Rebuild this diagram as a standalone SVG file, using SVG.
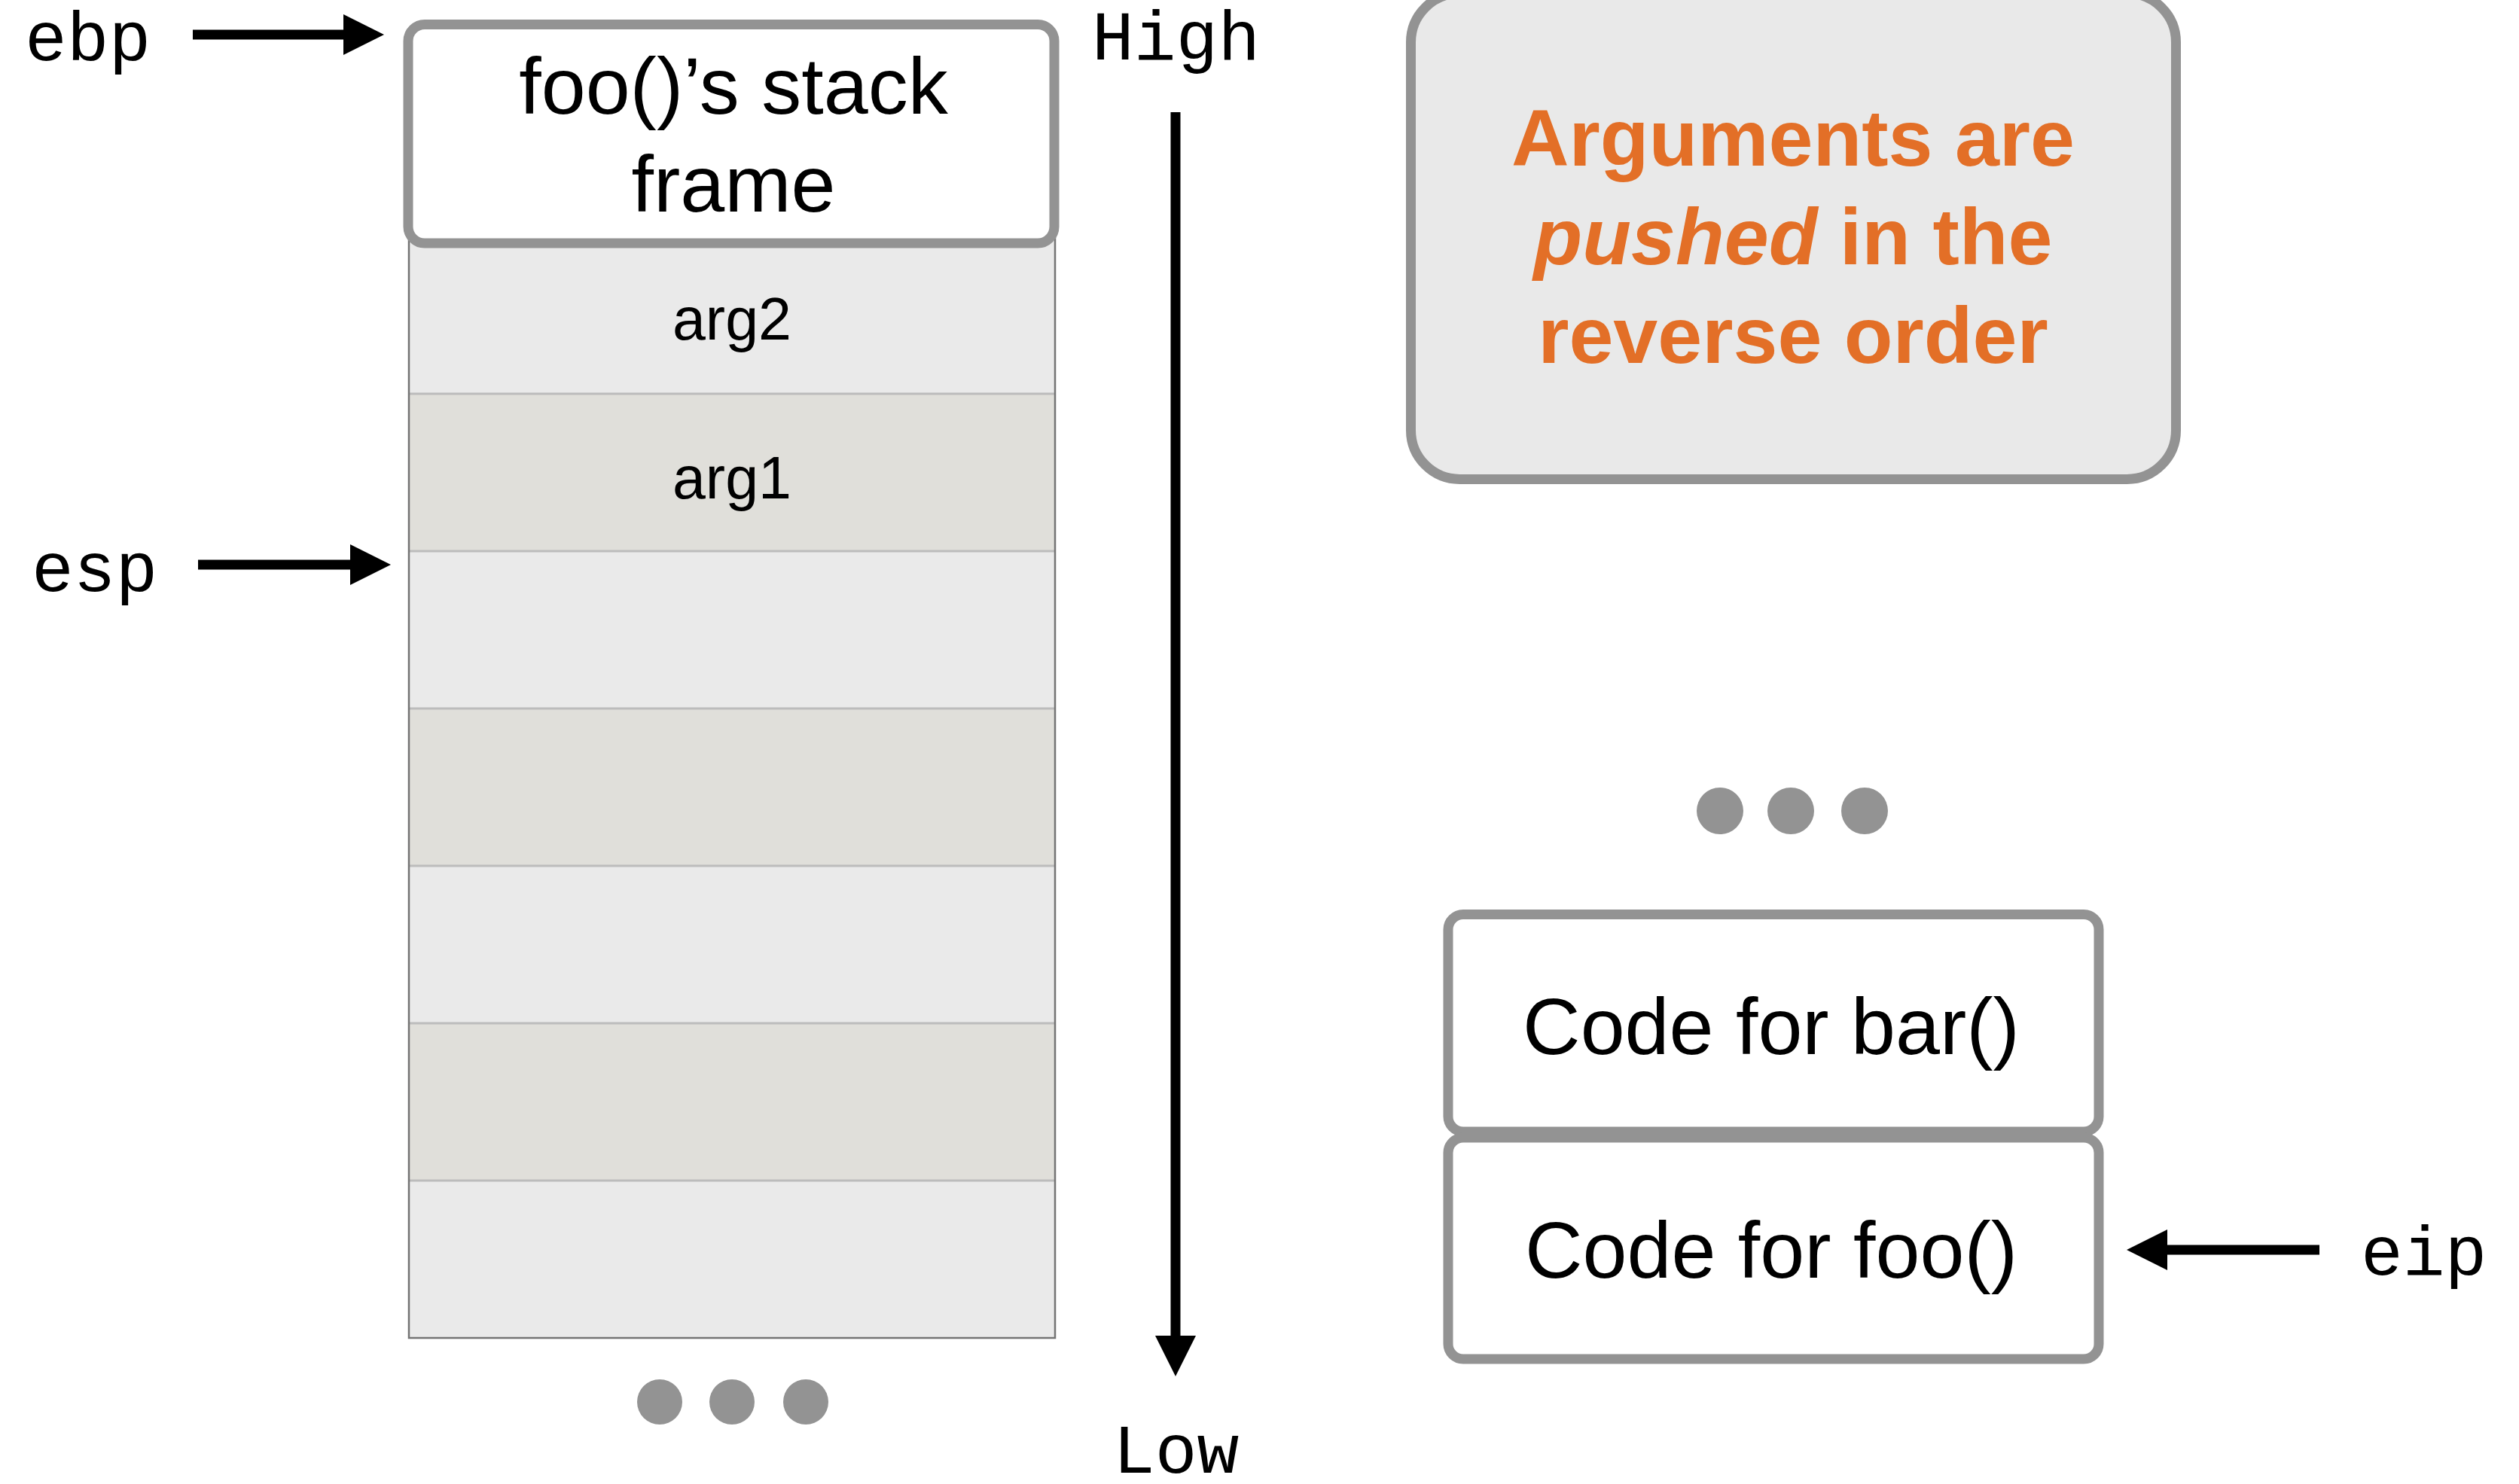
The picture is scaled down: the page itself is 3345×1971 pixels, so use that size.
<svg xmlns="http://www.w3.org/2000/svg" width="3345" height="1971" viewBox="0 0 3345 1971">
  <style>
    .mono { font-family: "Liberation Mono", "Courier New", monospace; font-size: 93px; fill: #000; }
    .sans { font-family: "Liberation Sans", Arial, Helvetica, sans-serif; fill: #000; text-anchor: middle; }
    .box { fill: #fff; stroke: #939393; stroke-width: 13; }
    .light { fill: #eaeaea; }
    .dark { fill: #e0dfda; }
    .sep { stroke: #bcbcbc; stroke-width: 3; }
    .dot { fill: #939393; }
    .arrow { stroke: #000; stroke-width: 13; fill: none; marker-end: url(#head); }
    .note { font-family: "Liberation Sans", Arial, Helvetica, sans-serif; font-weight: bold; font-size: 106px; fill: #e36f27; text-anchor: middle; }
  </style>
  <defs>
    <marker id="head" markerUnits="userSpaceOnUse" markerWidth="54" markerHeight="54" refX="14" refY="27" orient="auto">
      <path d="M0,0 L54,27 L0,54 Z" fill="#000"/>
    </marker>
  </defs>

  <!-- stack slots below foo()'s frame -->
  <g id="stack">
    <rect class="light" x="543" y="300" width="858" height="223"/>
    <rect class="dark" x="543" y="523" width="858" height="209"/>
    <rect class="light" x="543" y="732" width="858" height="209"/>
    <rect class="dark" x="543" y="941" width="858" height="209"/>
    <rect class="light" x="543" y="1150" width="858" height="209"/>
    <rect class="dark" x="543" y="1359" width="858" height="209"/>
    <rect class="light" x="543" y="1568" width="858" height="209"/>
    <line class="sep" x1="543" y1="523" x2="1401" y2="523"/>
    <line class="sep" x1="543" y1="732" x2="1401" y2="732"/>
    <line class="sep" x1="543" y1="941" x2="1401" y2="941"/>
    <line class="sep" x1="543" y1="1150" x2="1401" y2="1150"/>
    <line class="sep" x1="543" y1="1359" x2="1401" y2="1359"/>
    <line class="sep" x1="543" y1="1568" x2="1401" y2="1568"/>
    <rect x="543" y="300" width="858" height="1477" fill="none" stroke="#747474" stroke-width="2.5"/>
    <text class="sans" x="972" y="451" font-size="79">arg2</text>
    <text class="sans" x="972" y="662" font-size="79">arg1</text>
  </g>

  <g id="foo-frame">
    <rect class="box" x="542" y="32.5" width="858" height="290.5" rx="22"/>
    <text class="sans" x="974" y="151" font-size="106">foo()’s stack</text>
    <text class="sans" x="974" y="281" font-size="106">frame</text>
  </g>

  <g id="stack-more">
    <ellipse class="dot" cx="876" cy="1862" rx="30" ry="30"/>
    <ellipse class="dot" cx="972" cy="1862" rx="30" ry="30"/>
    <ellipse class="dot" cx="1070" cy="1862" rx="30" ry="30"/>
  </g>

  <g id="labels">
    <text class="mono" x="33" y="80">ebp</text>
    <text class="mono" x="42" y="785">esp</text>
    <text class="mono" x="1450" y="79">High</text>
    <text class="mono" x="1478" y="1956">Low</text>
    <text class="mono" x="3135" y="1693">eip</text>
  </g>

  <g id="note">
    <rect x="1873.5" y="-9" width="1016" height="645.5" rx="65" fill="#e9e9e9" stroke="#939393" stroke-width="13"/>
    <text class="note" x="2381" y="220">Arguments are</text>
    <text class="note" x="2381" y="351"><tspan font-style="italic">pushed</tspan> in the</text>
    <text class="note" x="2381" y="482">reverse order</text>
  </g>

  <g id="code-more">
    <ellipse class="dot" cx="2284" cy="1077" rx="31" ry="31"/>
    <ellipse class="dot" cx="2378" cy="1077" rx="31" ry="31"/>
    <ellipse class="dot" cx="2476" cy="1077" rx="31" ry="31"/>
  </g>

  <g id="code-bar">
    <rect class="box" x="1923" y="1214.5" width="864" height="288.5" rx="20"/>
    <text class="sans" x="2352" y="1400" font-size="106">Code for bar()</text>
  </g>

  <g id="code-foo">
    <rect class="box" x="1923" y="1511" width="864" height="294" rx="20"/>
    <text class="sans" x="2352" y="1697" font-size="106">Code for foo()</text>
  </g>

  <g id="connectors">
    <line class="arrow" x1="256" y1="46" x2="470" y2="46"/>
    <line class="arrow" x1="263" y1="750" x2="479" y2="750"/>
    <line class="arrow" x1="3080" y1="1660" x2="2864" y2="1660"/>
    <line class="arrow" x1="1561" y1="149" x2="1561" y2="1788"/>
  </g>
</svg>
